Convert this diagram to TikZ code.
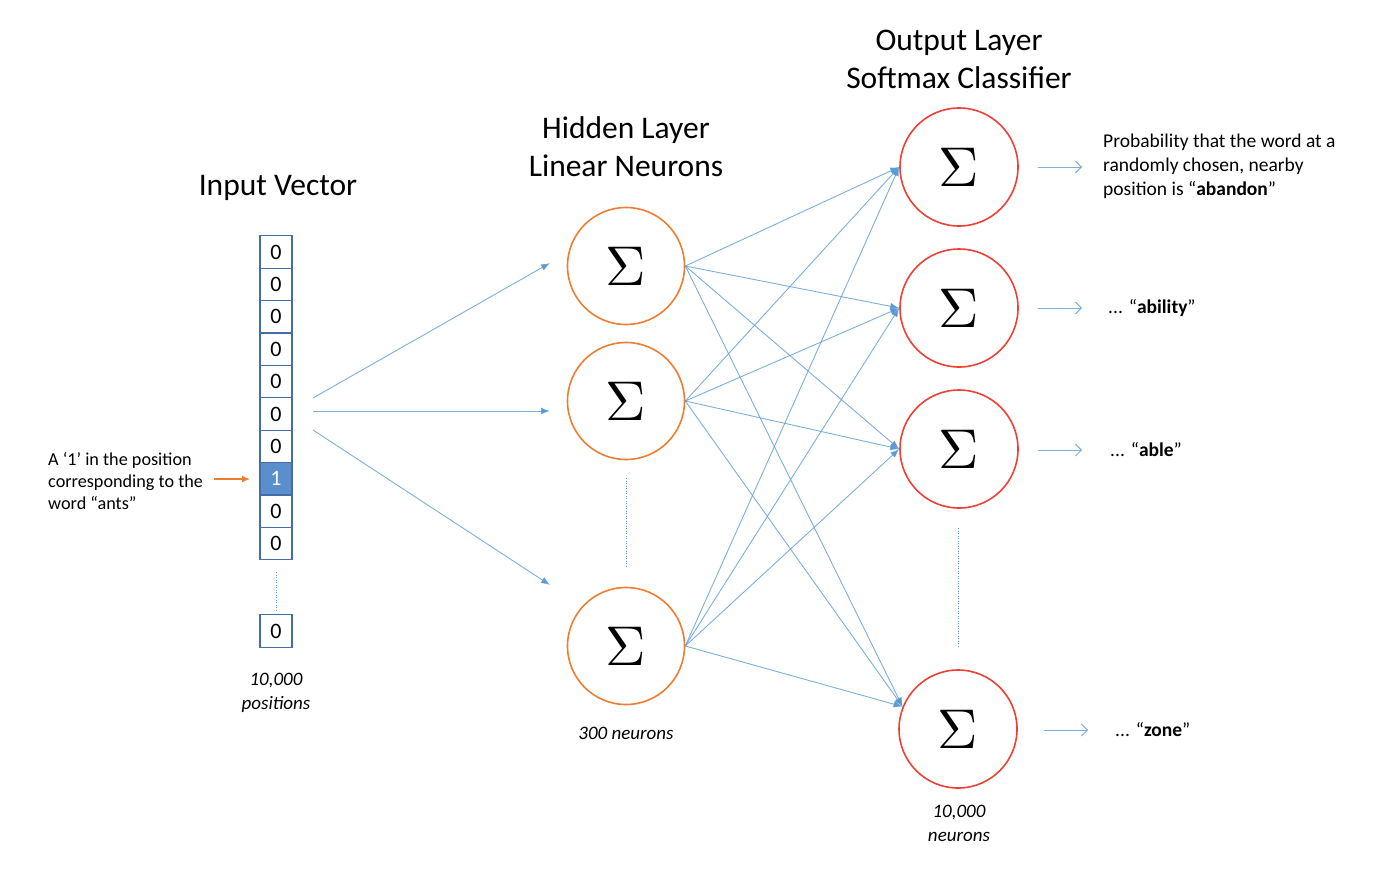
\documentclass[tikz,border=0pt]{standalone}
\usepackage{fontspec}
\setmainfont{Carlito}
\newfontfamily\sigfont{Latin Modern Math}
\usetikzlibrary{arrows.meta}
\definecolor{hidc}{RGB}{237,125,49}
\definecolor{outc}{RGB}{238,64,54}
\definecolor{linkc}{RGB}{91,155,213}
\definecolor{boxc}{RGB}{68,108,165}
\definecolor{onefill}{RGB}{91,142,205}
\definecolor{arrc}{RGB}{237,125,49}
\begin{document}
\begin{tikzpicture}[x=1pt,y=-1pt,
  cell/.style={draw=boxc, line width=1.3pt, minimum width=32pt, minimum height=32.4pt, inner sep=0pt, font=\fontsize{22}{26}\selectfont},
  hidn/.style={circle, draw=hidc, line width=1.6pt, minimum size=117pt, inner sep=0pt, font=\sigfont\fontsize{56}{60}\selectfont},
  outn/.style={circle, draw=outc, line width=1.6pt, minimum size=118pt, inner sep=0pt, font=\sigfont\fontsize{56}{60}\selectfont},
  ttl/.style={align=center, font=\fontsize{31.5}{38}\selectfont, inner sep=0pt},
  lbl/.style={align=left, anchor=west, inner sep=0pt, font=\fontsize{19.5}{24}\selectfont},
  note/.style={align=center, inner sep=0pt, font=\fontsize{19}{24}\selectfont\itshape},
  lnk/.style={draw=linkc, line width=0.9pt, draw opacity=0.8},
  conn/.style={lnk, -{Latex[length=9pt,width=7pt]}},
  outarr/.style={lnk, -{Straight Barb[length=6pt,width=12pt]}},
  dots/.style={draw=linkc, line width=1pt, dash pattern=on 1pt off 1.5pt}
]
\useasboundingbox (0,0) rectangle (1378,876);

% titles
\node[ttl] (tin) at (278,188) {Input Vector};
\node[ttl] (thid) at (626,147) {Hidden Layer\\Linear Neurons};
\node[ttl] (tout) at (959,59) {Output Layer\\Softmax Classifier};

% input vector
\foreach \i in {1,...,10} {
  \node[cell] (in\i) at (276,{252+32.4*(\i-1)}) {0};
}
\node[cell, fill=onefill, text=white] (in8) at (276,{252+32.4*7}) {1};
\node[cell] (inlast) at (276,631) {0};
\draw[dots] (in10.south) ++(0,12) coordinate (d1a) -- ++(0,38) coordinate (d1b);

\node[note] (npos) at (276,693) {10,000\\positions};

% left label
\node[align=left, anchor=west, inner sep=0pt, font=\fontsize{18.2}{22}\selectfont] (lab1) at (48,481) {A ‘1’ in the position\\corresponding to the\\word “ants”};
\coordinate (oa) at (214,479);
\coordinate (ob) at (250,479);
\draw[draw=arrc, line width=1.6pt, -{Latex[length=8pt,width=7pt]}] (oa) -- (ob);

% hidden layer
\node[hidn] (h1) at (626,266) {Σ};
\node[hidn] (h2) at (626,401) {Σ};
\node[hidn] (h3) at (626,646) {Σ};
\coordinate (d2a) at (626,478);
\coordinate (d2b) at (626,566);
\draw[dots] (d2a) -- (d2b);
\node[note] (n300) at (626,733) {300 neurons};

% output layer
\node[outn] (o1) at (959,167) {Σ};
\node[outn] (o2) at (959,308) {Σ};
\node[outn] (o3) at (959,449) {Σ};
\node[outn] (o4) at (958,729) {Σ};
\coordinate (d3a) at (958,528);
\coordinate (d3b) at (958,646);
\draw[dots] (d3a) -- (d3b);
\node[note] (n10k) at (959,823) {10,000\\neurons};

% input to hidden
\coordinate (s1) at (313,398);
\coordinate (s2) at (313,411);
\coordinate (s3) at (313,430);
\coordinate (e1) at (550,263);
\coordinate (e2) at (550,411);
\coordinate (e3) at (550,585);
\draw[conn] (s1) -- (e1);
\draw[conn] (s2) -- (e2);
\draw[conn] (s3) -- (e3);

% hidden to output
\foreach \h in {h1,h2,h3} {
  \draw[conn] (\h.east) -- (o1.west);
  \draw[conn] (\h.east) -- (o2.west);
  \draw[conn] (\h.east) -- (o3.west);
  \draw[conn] (\h.east) -- (o4.158);
}

% output arrows and labels
\coordinate (r1a) at (1038,167); \coordinate (r1b) at (1082,167);
\coordinate (r2a) at (1038,308); \coordinate (r2b) at (1082,308);
\coordinate (r3a) at (1038,450); \coordinate (r3b) at (1082,450);
\coordinate (r4a) at (1044,730); \coordinate (r4b) at (1088,730);
\draw[outarr] (r1a) -- (r1b);
\draw[outarr] (r2a) -- (r2b);
\draw[outarr] (r3a) -- (r3b);
\draw[outarr] (r4a) -- (r4b);
\node[lbl] (l1) at (1103,166) {Probability that the word at a\\randomly chosen, nearby\\position is “\textbf{abandon}”};
\node[lbl] (l2) at (1108,308) {... “\textbf{ability}”};
\node[lbl] (l3) at (1110,450) {... “\textbf{able}”};
\node[lbl] (l4) at (1115,730) {... “\textbf{zone}”};
\end{tikzpicture}
\end{document}
